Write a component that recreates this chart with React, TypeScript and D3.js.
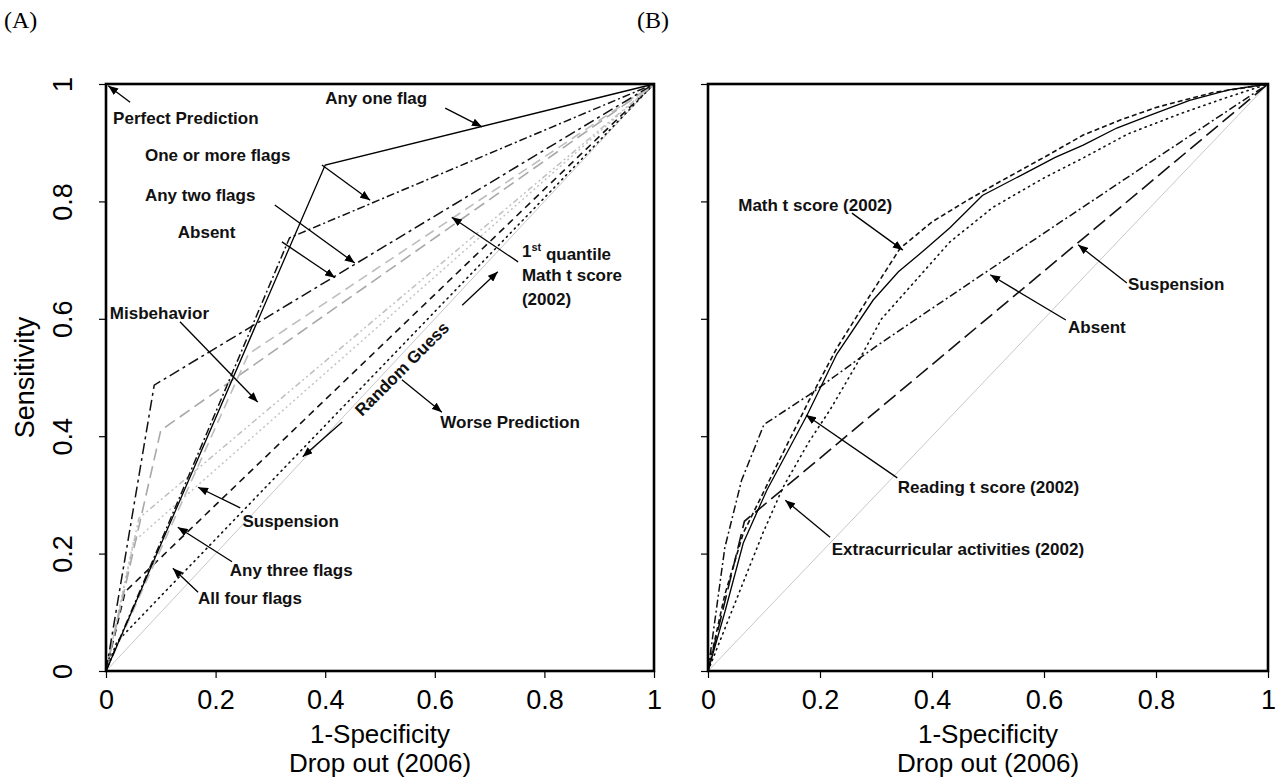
import React, { useRef, useEffect } from "react";
import * as d3 from "d3";

type Pt = [number, number];

const tickValues = [0, 0.2, 0.4, 0.6, 0.8, 1];
const tickLabels = ["0", "0.2", "0.4", "0.6", "0.8", "1"];

// panel A: flag based predictors, [1-specificity, sensitivity]
const randomGuess: Pt[] = [[0, 0], [1, 1]];
const anyOneFlag: Pt[] = [[0, 0], [0.4, 0.862], [1, 1]];
const oneOrMoreFlags: Pt[] = [[0, 0], [0.335, 0.738], [1, 1]];
const anyTwoFlags: Pt[] = [[0, 0], [0.088, 0.487], [1, 1]];
const absentA: Pt[] = [[0, 0], [0.1, 0.41], [1, 1]];
const mathQuantileA: Pt[] = [[0, 0], [0.26, 0.54], [1, 1]];
const misbehaviorA: Pt[] = [[0, 0], [0.06, 0.26], [1, 1]];
const suspensionA: Pt[] = [[0, 0], [0.05, 0.22], [1, 1]];
const anyThreeFlags: Pt[] = [[0, 0], [0.035, 0.135], [1, 1]];
const allFourFlags: Pt[] = [[0, 0], [0.02, 0.05], [1, 1]];

// panel B: continuous predictors
const mathB: Pt[] = [[0, 0], [0.03, 0.13], [0.063, 0.235], [0.12, 0.345], [0.18, 0.46], [0.23, 0.55], [0.284, 0.632], [0.343, 0.72], [0.4, 0.765], [0.46, 0.8], [0.52, 0.833], [0.6, 0.875], [0.67, 0.913], [0.74, 0.94], [0.8, 0.96], [0.9, 0.985], [1, 1]];
const readingB: Pt[] = [[0, 0], [0.03, 0.1], [0.063, 0.218], [0.105, 0.308], [0.14, 0.37], [0.177, 0.436], [0.23, 0.54], [0.295, 0.632], [0.34, 0.68], [0.39, 0.72], [0.432, 0.755], [0.49, 0.81], [0.57, 0.85], [0.62, 0.875], [0.67, 0.896], [0.73, 0.925], [0.79, 0.947], [0.86, 0.972], [0.93, 0.99], [1, 1]];
const extraB: Pt[] = [[0, 0], [0.05, 0.12], [0.098, 0.235], [0.134, 0.313], [0.18, 0.39], [0.218, 0.445], [0.27, 0.53], [0.31, 0.6], [0.38, 0.675], [0.432, 0.731], [0.509, 0.79], [0.6, 0.84], [0.67, 0.874], [0.75, 0.915], [0.845, 0.95], [0.92, 0.975], [1, 1]];
const absentB: Pt[] = [[0, 0], [0.03, 0.21], [0.06, 0.325], [0.1, 0.42], [0.18, 0.47], [0.3, 0.553], [0.43, 0.637], [0.6, 0.746], [0.79, 0.867], [1, 1]];
const suspensionB: Pt[] = [[0, 0], [0.065, 0.255], [1, 1]];

// line styles
const styles: Record<string, { color: string; width: number; dash: string; cap?: string }> = {
  guess: { color: "#c8c8c8", width: 1, dash: "none" },
  solid: { color: "#000", width: 1.3, dash: "none" },
  dashDot: { color: "#111", width: 1.5, dash: "8,3,2,3" },
  dashDotLong: { color: "#111", width: 1.5, dash: "11,4,3,4" },
  grayLong: { color: "#a8a8a8", width: 1.6, dash: "12,6" },
  grayLong2: { color: "#bdbdbd", width: 1.6, dash: "10,6" },
  grayDashDotDot: { color: "#bfbfbf", width: 1.5, dash: "6,3,2,3,2,3" },
  grayDot: { color: "#c4c4c4", width: 1.5, dash: "2,3" },
  dashed: { color: "#111", width: 1.6, dash: "7,5" },
  dotted: { color: "#111", width: 1.6, dash: "1.2,4.5", cap: "round" },
  shortDash: { color: "#111", width: 1.6, dash: "5,3" },
  longDash: { color: "#111", width: 1.6, dash: "15,6" },
};

const seriesA = [
  { values: randomGuess, style: "guess" },
  { values: allFourFlags, style: "dotted" },
  { values: anyThreeFlags, style: "dashed" },
  { values: suspensionA, style: "grayDot" },
  { values: misbehaviorA, style: "grayDashDotDot" },
  { values: absentA, style: "grayLong" },
  { values: mathQuantileA, style: "grayLong2" },
  { values: anyTwoFlags, style: "dashDotLong" },
  { values: oneOrMoreFlags, style: "dashDot" },
  { values: anyOneFlag, style: "solid" },
];

const seriesB = [
  { values: randomGuess, style: "guess" },
  { values: suspensionB, style: "longDash" },
  { values: absentB, style: "dashDot" },
  { values: extraB, style: "dotted" },
  { values: readingB, style: "solid" },
  { values: mathB, style: "shortDash" },
];

// annotations in data units: text anchor and arrow from -> to
type Note = { lines: string[]; at: Pt; from?: Pt; to?: Pt };
const notesA: Note[] = [
  { lines: ["Perfect Prediction"], at: [0.013, 0.942], from: [0.044, 0.969], to: [0.004, 0.997] },
  { lines: ["Any one flag"], at: [0.4, 0.976], from: [0.619, 0.959], to: [0.686, 0.927] },
  { lines: ["One or more flags"], at: [0.071, 0.879], from: [0.394, 0.862], to: [0.482, 0.802] },
  { lines: ["Any two flags"], at: [0.071, 0.811], from: [0.308, 0.794], to: [0.454, 0.695] },
  { lines: ["Absent"], at: [0.131, 0.748], from: [0.321, 0.731], to: [0.418, 0.67] },
  { lines: ["Misbehavior"], at: [0.007, 0.61], from: [0.135, 0.595], to: [0.277, 0.458] },
  { lines: ["1st quantile", "Math t score", "(2002)"], at: [0.759, 0.716], from: [0.752, 0.697], to: [0.631, 0.773] },
  { lines: ["Worse Prediction"], at: [0.61, 0.424], from: [0.54, 0.496], to: [0.613, 0.441] },
  { lines: ["Suspension"], at: [0.249, 0.256], from: [0.245, 0.278], to: [0.168, 0.313] },
  { lines: ["Any three flags"], at: [0.226, 0.172], from: [0.23, 0.186], to: [0.131, 0.245] },
  { lines: ["All four flags"], at: [0.168, 0.124], from: [0.168, 0.134], to: [0.122, 0.175] },
];
const guessArrows: [Pt, Pt][] = [
  [[0.65, 0.623], [0.715, 0.68]],
  [[0.431, 0.424], [0.359, 0.365]],
];
const notesB: Note[] = [
  { lines: ["Math t score (2002)"], at: [0.054, 0.794], from: [0.257, 0.78], to: [0.348, 0.717] },
  { lines: ["Reading t score (2002)"], at: [0.339, 0.313], from: [0.338, 0.329], to: [0.175, 0.436] },
  { lines: ["Extracurricular activities (2002)"], at: [0.221, 0.208], from: [0.218, 0.228], to: [0.138, 0.291] },
  { lines: ["Absent"], at: [0.643, 0.586], from: [0.639, 0.598], to: [0.504, 0.675] },
  { lines: ["Suspension"], at: [0.75, 0.659], from: [0.748, 0.661], to: [0.661, 0.726] },
];

const boxA = { left: 106, right: 654, top: 84, bottom: 671 };
const boxB = { left: 708, right: 1268, top: 84, bottom: 671 };
const sans = "Liberation Sans, Arial, sans-serif";
const serif = "Liberation Serif, Times New Roman, serif";

function drawPanel(svg: any, box: typeof boxA, series: typeof seriesA, notes: Note[], showY: boolean) {
  const x = d3.scaleLinear().domain([0, 1]).range([box.left, box.right]);
  const y = d3.scaleLinear().domain([0, 1]).range([box.bottom, box.top]);
  const g = svg.append("g");
  const line = d3.line<Pt>().x((d) => x(d[0])).y((d) => y(d[1]));

  series.forEach((s) => {
    const st = styles[s.style];
    g.append("path")
      .attr("d", line(s.values))
      .attr("fill", "none")
      .attr("stroke", st.color)
      .attr("stroke-width", st.width)
      .attr("stroke-dasharray", st.dash)
      .attr("stroke-linecap", st.cap || "butt");
  });

  // axes
  const xAxis = d3.axisBottom(x).tickValues(tickValues).tickSize(7).tickSizeOuter(0).tickPadding(12)
    .tickFormat((d, i) => tickLabels[i]);
  const xg = g.append("g").attr("transform", `translate(0,${box.bottom})`).call(xAxis);
  const yAxis = d3.axisLeft(y).tickValues(tickValues).tickSize(7).tickSizeOuter(0)
    .tickFormat((d, i) => (showY ? tickLabels[i] : ""));
  const yg = g.append("g").attr("transform", `translate(${box.left},0)`).call(yAxis);
  [xg, yg].forEach((a) => {
    a.select(".domain").remove();
    a.selectAll("line").attr("stroke", "#000").attr("stroke-width", 1.2);
    a.selectAll("text").attr("font-family", sans).attr("font-size", 27).attr("fill", "#000");
  });
  yg.selectAll("text")
    .attr("x", null)
    .attr("dy", "0.35em")
    .attr("text-anchor", "middle")
    .attr("transform", "translate(-43,0) rotate(-90)");

  g.append("rect")
    .attr("x", box.left).attr("y", box.top)
    .attr("width", box.right - box.left).attr("height", box.bottom - box.top)
    .attr("fill", "none").attr("stroke", "#000").attr("stroke-width", 2.6);

  const cx = (box.left + box.right) / 2;
  g.append("text").attr("x", cx).attr("y", 743).attr("text-anchor", "middle")
    .attr("font-family", sans).attr("font-size", 26).text("1-Specificity");
  g.append("text").attr("x", cx).attr("y", 772).attr("text-anchor", "middle")
    .attr("font-family", sans).attr("font-size", 26).text("Drop out (2006)");

  notes.forEach((n) => {
    if (n.from && n.to) {
      g.append("line")
        .attr("x1", x(n.from[0])).attr("y1", y(n.from[1]))
        .attr("x2", x(n.to[0])).attr("y2", y(n.to[1]))
        .attr("stroke", "#000").attr("stroke-width", 1.3)
        .attr("marker-end", "url(#arrow)");
    }
    const t = g.append("text")
      .attr("font-family", sans).attr("font-size", 17).attr("font-weight", "bold").attr("fill", "#111");
    n.lines.forEach((l, i) => {
      const ts = t.append("tspan").attr("x", x(n.at[0])).attr("y", y(n.at[1]) + i * 24).attr("dy", "0.35em");
      if (l.startsWith("1st")) {
        ts.text("1");
        ts.append("tspan").attr("font-size", 11).attr("dy", "-0.55em").text("st");
        ts.append("tspan").attr("dy", "0.55em").text("\u00a0quantile");
      } else {
        ts.text(l);
      }
    });
  });
  return { x, y, g };
}

const App = () => {
  const ref = useRef<SVGSVGElement>(null);

  useEffect(() => {
    const svg = d3.select(ref.current);
    svg.selectAll("*").remove();

    svg.append("defs").append("marker")
      .attr("id", "arrow").attr("viewBox", "0 0 10 8").attr("refX", 10).attr("refY", 4)
      .attr("markerWidth", 10).attr("markerHeight", 8).attr("markerUnits", "userSpaceOnUse")
      .attr("orient", "auto")
      .append("path").attr("d", "M0,0L10,4L0,8Z").attr("fill", "#000");

    svg.append("text").attr("x", 4).attr("y", 28).attr("font-family", serif)
      .attr("font-size", 24).text("(A)");
    svg.append("text").attr("x", 637).attr("y", 28).attr("font-family", serif)
      .attr("font-size", 24).text("(B)");

    const a = drawPanel(svg, boxA, seriesA, notesA, true);
    drawPanel(svg, boxB, seriesB, notesB, false);

    // panel A extras
    a.g.append("text")
      .attr("transform", `translate(25,${(boxA.top + boxA.bottom) / 2}) rotate(-90)`)
      .attr("text-anchor", "middle").attr("dy", "0.35em")
      .attr("font-family", sans).attr("font-size", 27).text("Sensitivity");

    guessArrows.forEach(([f, t]) => {
      a.g.append("line")
        .attr("x1", a.x(f[0])).attr("y1", a.y(f[1]))
        .attr("x2", a.x(t[0])).attr("y2", a.y(t[1]))
        .attr("stroke", "#000").attr("stroke-width", 1.3)
        .attr("marker-end", "url(#arrow)");
    });
    a.g.append("text")
      .attr("transform", `translate(${a.x(0.54)},${a.y(0.515)}) rotate(-45)`)
      .attr("text-anchor", "middle").attr("dy", "0.35em")
      .attr("font-family", sans).attr("font-size", 17).attr("font-weight", "bold").attr("fill", "#111")
      .text("Random Guess");
  }, []);

  return (
    <svg ref={ref} width={1284} height={780}
      style={{ position: "absolute", left: 0, top: 0, background: "#fff" }} />
  );
};

export default App;
